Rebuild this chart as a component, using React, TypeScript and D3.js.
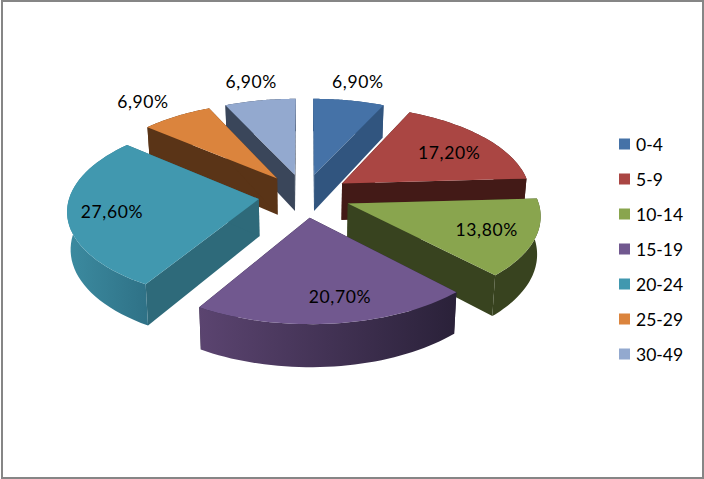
import React from 'react';
import * as d3 from 'd3';

const categories = ['0-4', '5-9', '10-14', '15-19', '20-24', '25-29', '30-49'];
const shares = [6.9, 17.2, 13.8, 20.7, 27.6, 6.9, 6.9];
const valueLabels = ['6,90%', '17,20%', '13,80%', '20,70%', '27,60%', '6,90%', '6,90%'];

const topColors = ['#4572a7', '#aa4643', '#89a54e', '#71588f', '#4198af', '#db843d', '#93a9cf'];
const wallColors = ['#31557f', '#431a17', '#38431f', '#2a2139', '#2e6a7a', '#5a3417', '#3a465a'];
const rimLeftColors = ['#31557f', '#431a17', '#38431f', '#5b4470', '#3c8ba0', '#5a3417', '#3a465a'];
const rimRightColors = ['#31557f', '#431a17', '#38431f', '#2a2139', '#2f7287', '#5a3417', '#3a465a'];

// label distance from the slice apex (1 = rim), and a small turn off the mid angle
const labelRadius = [1.29, 0.71, 0.75, 0.78, 0.77, 1.3, 1.29];
const labelTurn = [0, 3, 0, -4, -1, -2, 0];

const W = 704;
const H = 479;
const cx = 304.5;
const cy = 195.5;
const rx = 189;
const ry = 89;
const persp = 0.113;
const explode = 0.244;
const depth = 37;
const dropShrink = 0.985; // underside of the pie sits further from the camera

const FONT = 'Lato, "Open Sans", sans-serif';

// disc coordinates -> screen, front of the pie is nearer and so larger
const project = (wx: number, wy: number, drop = 0): [number, number] => {
  const p = 1 / (1 - persp * wy);
  const x = rx * wx * p * (drop ? dropShrink : 1);
  return [cx + x, cy + ry * wy * p + drop * p];
};

const line = d3.line<[number, number]>().x(d => d[0]).y(d => d[1]);

const arcs = d3.pie<number>().sort(null).startAngle(0).endAngle(Math.PI * 2)(shares);

const slices = arcs.map((a, i) => {
  const mid = (a.startAngle + a.endAngle) / 2;
  const ax = explode * Math.sin(mid);
  const ay = -explode * Math.cos(mid);
  const at = (angle: number, r: number, drop = 0) =>
    project(ax + r * Math.sin(angle), ay - r * Math.cos(angle), drop);

  const steps = d3.range(0, 41).map(k => a.startAngle + (a.endAngle - a.startAngle) * k / 40);
  const rimTop = steps.map(t => at(t, 1));
  const rimBottom = steps.map(t => at(t, 1, depth));
  const apex = at(0, 0);
  const apexBottom = at(0, 0, depth);

  const labelAngle = mid + (labelTurn[i] * Math.PI) / 180;
  return {
    i,
    order: ay,
    top: line([apex, ...rimTop])! + 'Z',
    rim: line([...rimTop, ...rimBottom.slice().reverse()])! + 'Z',
    wallStart: line([apex, rimTop[0], rimBottom[0], apexBottom])! + 'Z',
    wallEnd: line([apex, rimTop[40], rimBottom[40], apexBottom])! + 'Z',
    rimX: d3.extent(rimTop, d => d[0]) as [number, number],
    label: at(labelAngle, labelRadius[i]),
  };
});

// painter's order, back slices first
const drawOrder = d3.sort(slices, d => d.order);

const legendY = d3.scalePoint<string>().domain(categories).range([144, 354]);

export default function App() {
  return (
    <svg
      width={W}
      height={H}
      viewBox={`0 0 ${W} ${H}`}
      style={{ position: 'fixed', left: 0, top: 0, background: '#fff' }}
    >
      <defs>
        {slices.map(s => (
          <linearGradient
            key={s.i}
            id={`rim-${s.i}`}
            gradientUnits="userSpaceOnUse"
            x1={s.rimX[0]}
            x2={s.rimX[1]}
            y1={0}
            y2={0}
          >
            <stop offset="0" stopColor={rimLeftColors[s.i]} />
            <stop offset="1" stopColor={rimRightColors[s.i]} />
          </linearGradient>
        ))}
      </defs>

      <rect x={2} y={1} width={701} height={477} fill="none" stroke="#868686" strokeWidth={2} />

      {drawOrder.map(s => (
        <g key={s.i}>
          <path d={s.wallStart} fill={wallColors[s.i]} />
          <path d={s.wallEnd} fill={wallColors[s.i]} />
          <path d={s.rim} fill={`url(#rim-${s.i})`} />
          <path d={s.top} fill={topColors[s.i]} />
        </g>
      ))}

      {slices.map(s => (
        <text
          key={s.i}
          x={s.label[0]}
          y={s.label[1]}
          textAnchor="middle"
          dominantBaseline="central"
          fontFamily={FONT}
          fontSize={17.5}
          letterSpacing={0.6}
          fill="#000"
        >
          {valueLabels[s.i]}
        </text>
      ))}

      {categories.map((c, i) => (
        <g key={c}>
          <rect x={619} y={legendY(c)! - 5.5} width={11} height={11} fill={topColors[i]} />
          <text
            x={636}
            y={legendY(c)!}
            dominantBaseline="central"
            fontFamily={FONT}
            fontSize={17.5}
            fill="#000"
          >
            {c}
          </text>
        </g>
      ))}
    </svg>
  );
}
